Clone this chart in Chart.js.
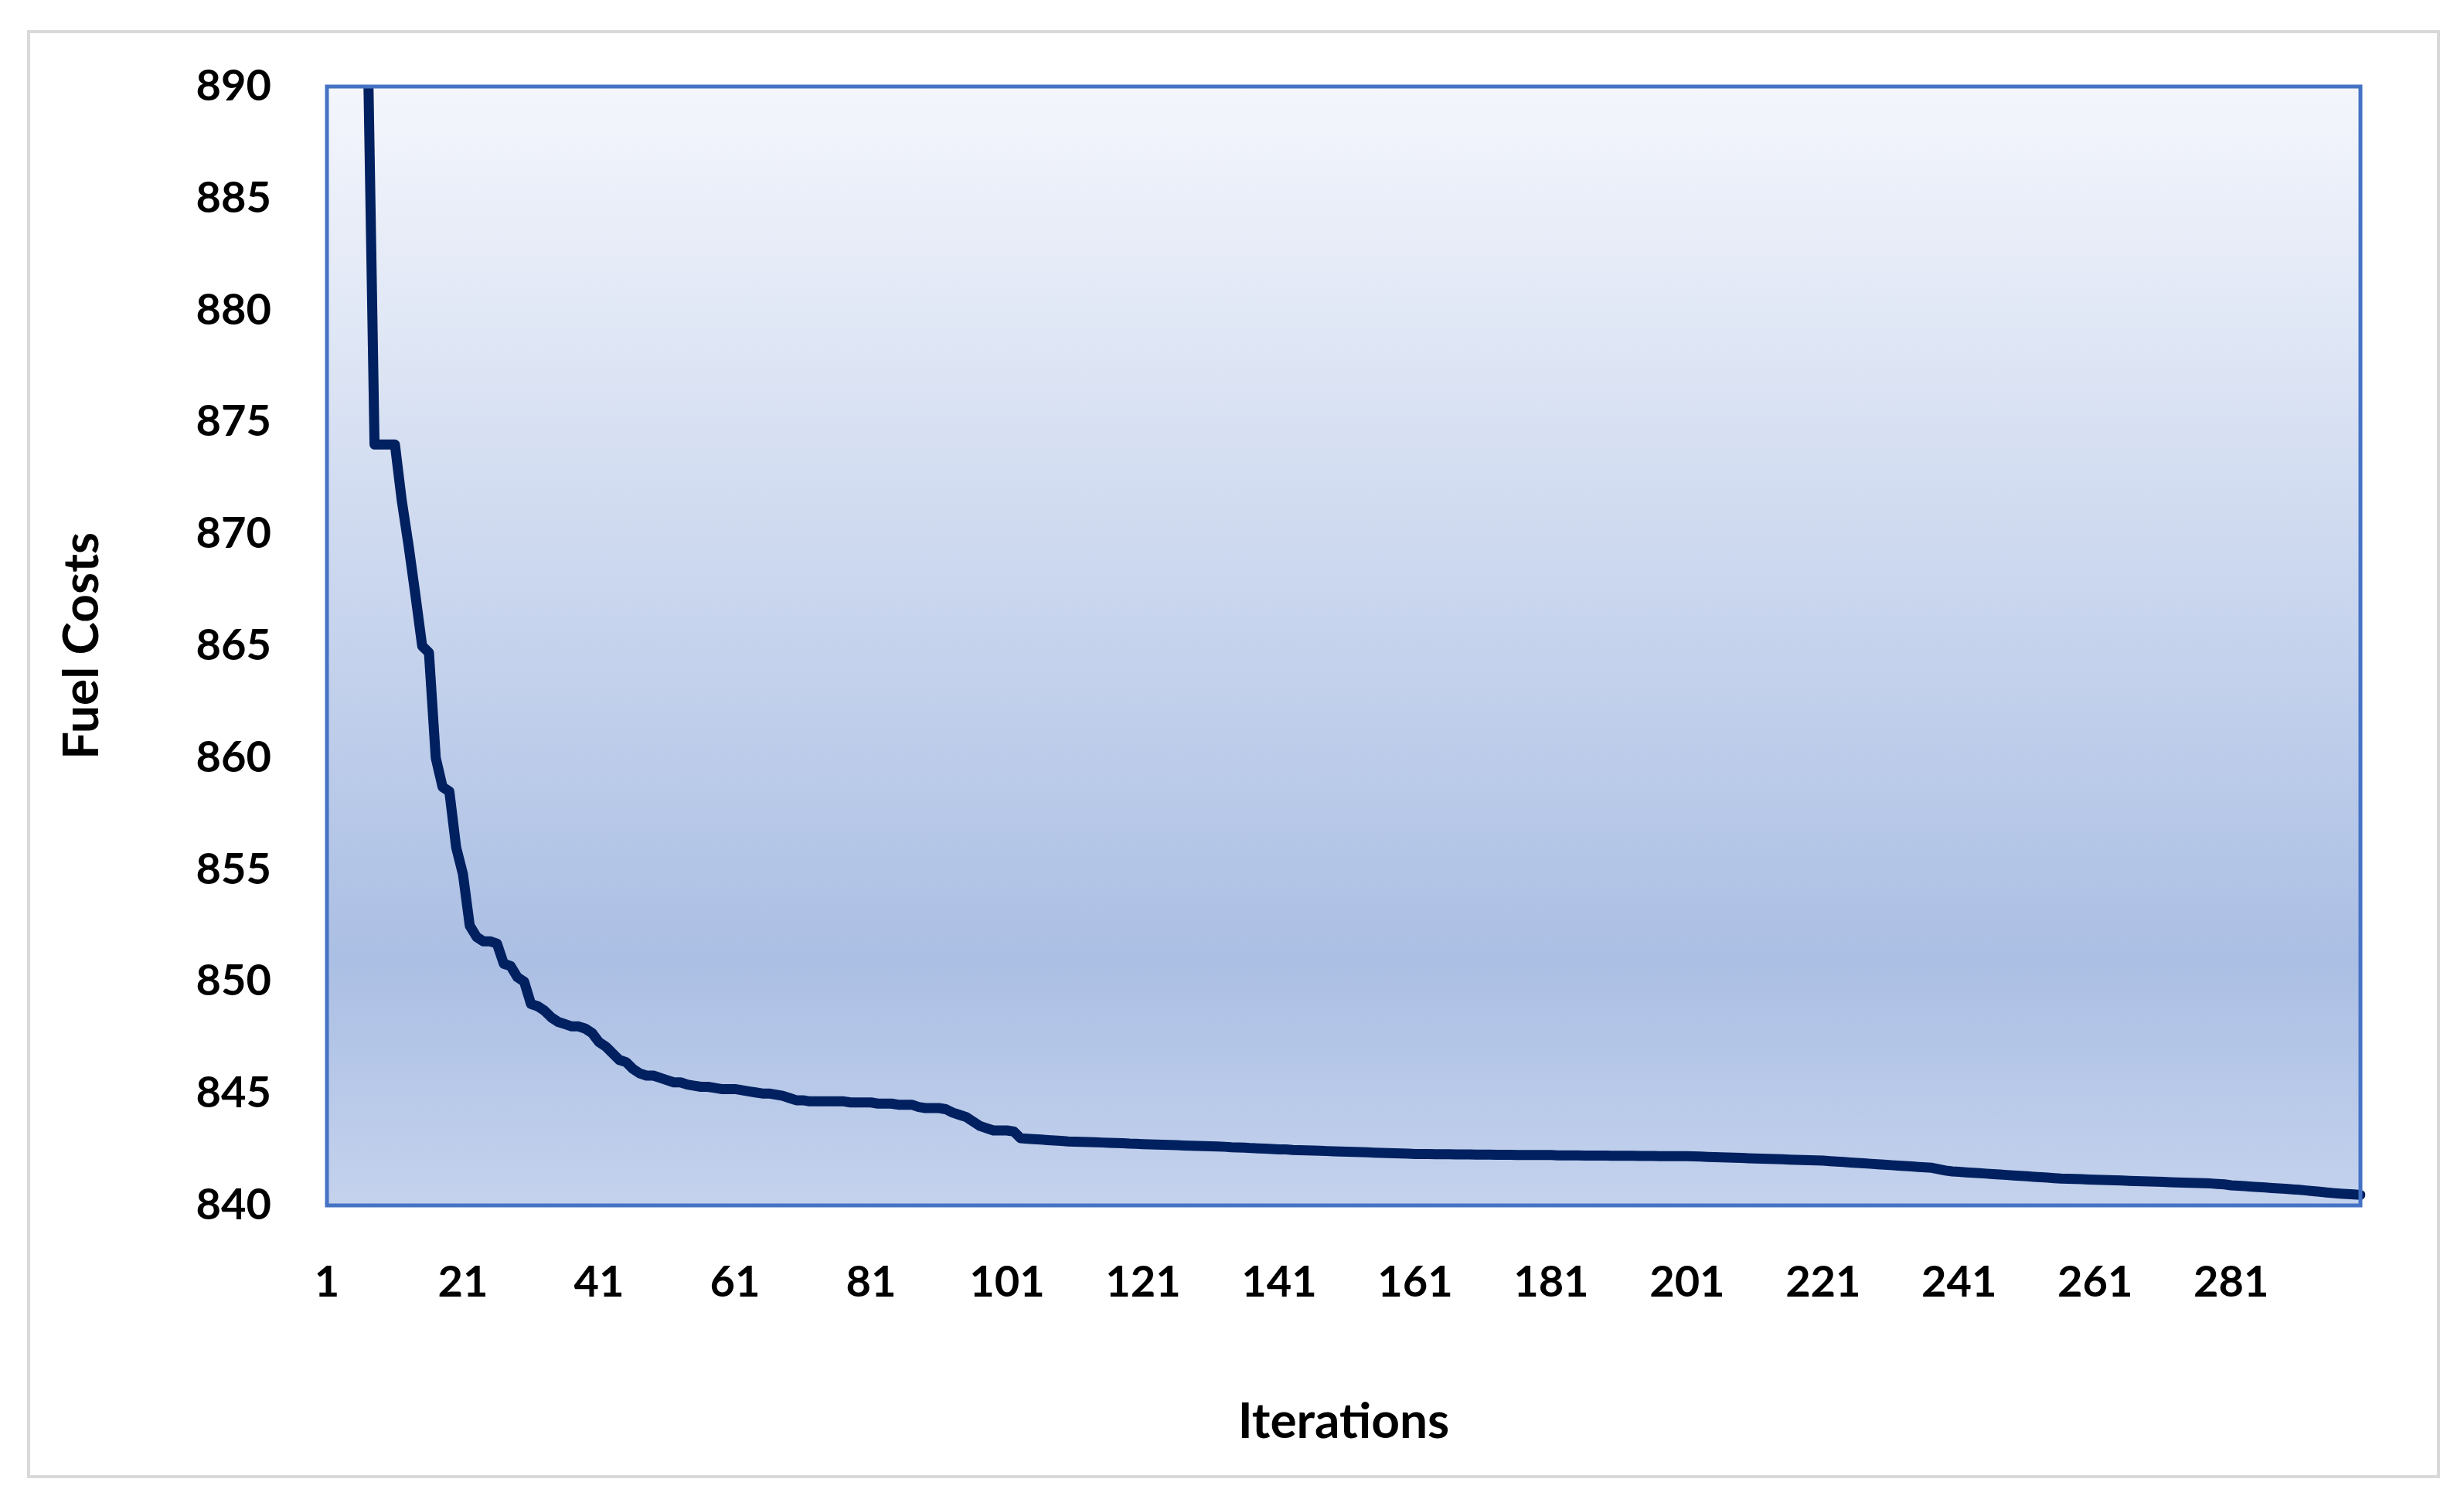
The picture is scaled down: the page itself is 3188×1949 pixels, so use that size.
<!DOCTYPE html>
<html><head><meta charset="utf-8">
<script src="https://cdn.jsdelivr.net/npm/chart.js@4"></script>
<style>html,body{margin:0;padding:0;background:#fff}#w{width:3188px;height:1949px;position:relative}</style>
</head><body><div id="w"><canvas id="c"></canvas></div>
<script>
const iterations = Array.from({length:300},(_,i)=>String(i+1));
const fuelCosts = [
960,940,925,910,900,895,892,874,874,874,
874,871.5,869.5,867.3,865,864.7,860,858.7,858.5,856,
854.8,852.5,852,851.8,851.8,851.7,850.8,850.7,850.2,850,
849,848.9,848.7,848.4,848.2,848.1,848,848,847.9,847.7,
847.3,847.1,846.8,846.5,846.4,846.1,845.9,845.8,845.8,845.7,
845.6,845.5,845.5,845.4,845.35,845.3,845.3,845.25,845.2,845.2,
845.2,845.15,845.1,845.05,845,845,844.95,844.9,844.8,844.7,
844.7,844.65,844.65,844.65,844.65,844.65,844.65,844.6,844.6,844.6,
844.6,844.55,844.55,844.55,844.5,844.5,844.5,844.4,844.35,844.35,
844.35,844.3,844.15,844.05,843.95,843.75,843.55,843.45,843.35,843.35,
843.35,843.3,843.0,842.98,842.96,842.94,842.92,842.9,842.88,842.86,
842.85,842.84,842.83,842.82,842.81,842.8,842.79,842.78,842.76,842.75,
842.74,842.73,842.72,842.71,842.7,842.69,842.68,842.67,842.66,842.65,
842.64,842.63,842.62,842.6,842.59,842.58,842.56,842.55,842.54,842.52,
842.5,842.5,842.48,842.47,842.46,842.45,842.44,842.43,842.42,842.41,
842.4,842.39,842.38,842.37,842.36,842.35,842.34,842.33,842.32,842.31,
842.3,842.3,842.3,842.29,842.29,842.29,842.28,842.28,842.28,842.27,
842.27,842.27,842.26,842.26,842.26,842.25,842.25,842.25,842.25,842.25,
842.25,842.24,842.24,842.24,842.24,842.23,842.23,842.23,842.23,842.22,
842.22,842.22,842.22,842.21,842.21,842.21,842.2,842.2,842.2,842.2,
842.2,842.19,842.18,842.17,842.16,842.15,842.14,842.13,842.12,842.11,
842.1,842.09,842.08,842.07,842.06,842.05,842.04,842.03,842.02,842.01,
842.0,841.98,841.96,841.94,841.92,841.9,841.88,841.86,841.84,841.82,
841.8,841.78,841.76,841.74,841.72,841.7,841.68,841.62,841.56,841.52,
841.5,841.48,841.46,841.44,841.42,841.4,841.38,841.36,841.34,841.32,
841.3,841.28,841.26,841.24,841.22,841.2,841.19,841.18,841.17,841.16,
841.15,841.14,841.13,841.12,841.11,841.1,841.09,841.08,841.07,841.06,
841.05,841.04,841.03,841.02,841.01,841.0,840.99,840.98,840.96,840.94,
840.9,840.88,840.86,840.84,840.82,840.8,840.78,840.76,840.74,840.72,
840.7,840.67,840.64,840.61,840.58,840.55,840.53,840.51,840.49,840.47
];
const yTicks = [840,845,850,855,860,865,870,875,880,885,890];
const font = {family:"Lato, 'Open Sans', sans-serif", weight:'bold'};

const deco = {
  id:'deco',
  beforeDraw(ch){
    const c=ch.ctx, a=ch.chartArea;
    c.save();
    c.strokeStyle='#d9d9d9'; c.lineWidth=4;
    c.strokeRect(37,41,3118,1870);
    const g=c.createLinearGradient(0,a.top,0,a.bottom);
    g.addColorStop(0,'#f4f6fc'); g.addColorStop(0.78,'#abbfe4'); g.addColorStop(1,'#c4d2ed');
    c.fillStyle=g; c.fillRect(a.left,a.top,a.right-a.left,a.bottom-a.top);
    c.restore();
  },
  afterDatasetsDraw(ch){
    const c=ch.ctx, a=ch.chartArea;
    c.save(); c.strokeStyle='#4472c4'; c.lineWidth=5;
    c.strokeRect(a.left,a.top,a.right-a.left,a.bottom-a.top); c.restore();
  }
};

new Chart(document.getElementById('c'),{
  type:'line',
  data:{labels:iterations,datasets:[{data:fuelCosts,borderColor:'#002060',borderWidth:13,pointRadius:0,tension:0,borderJoinStyle:'round',borderCapStyle:'round'}]},
  options:{
    responsive:true,maintainAspectRatio:false,animation:false,
    devicePixelRatio:1,
    layout:{padding:{top:112,right:134,left:0,bottom:0}},
    plugins:{legend:{display:false},tooltip:{enabled:false}},
    scales:{
      x:{offset:false,grid:{display:false},border:{display:false},
        ticks:{autoSkip:false,maxRotation:0,padding:58,color:'#000',font:{...font,size:56},
          callback:(v,i)=>(i%20===0 && i<290)?iterations[i]:''},
        title:{display:true,text:'Iterations',color:'#000',font:{...font,size:64},padding:{top:0,bottom:70}},
        afterFit(s){s.height=389;}},
      y:{min:840,max:890,grid:{display:false},border:{display:false},
        afterBuildTicks(s){s.ticks=yTicks.map(v=>({value:v}));},
        ticks:{padding:64,color:'#000',font:{...font,size:56}},
        title:{display:true,text:'Fuel Costs',color:'#000',font:{...font,size:64},padding:{top:68,bottom:0}},
        afterFit(s){s.width=423;}}
    }
  },
  plugins:[deco]
});
</script></body></html>
